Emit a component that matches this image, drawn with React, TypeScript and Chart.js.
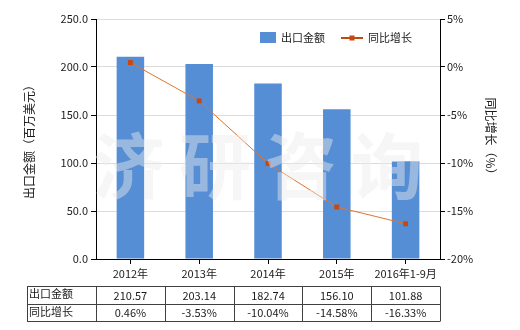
import React, { useEffect, useRef } from 'react';
import { Chart, registerables } from 'chart.js';
Chart.register(...registerables);

const categories = ['2012年', '2013年', '2014年', '2015年', '2016年1-9月'];
const exportValues = [210.57, 203.14, 182.74, 156.1, 101.88];
const growthValues = [0.46, -3.53, -10.04, -14.58, -16.33];
const exportLabels = ['210.57', '203.14', '182.74', '156.10', '101.88'];
const growthLabels = ['0.46%', '-3.53%', '-10.04%', '-14.58%', '-16.33%'];
const seriesNames = ['出口金额', '同比增长'];
const leftTitle = '出口金额（百万美元）';
const rightTitle = '同比增长（%）';
const watermarkChars = ['济', '研', '咨', '询'];

const FONT = '"Noto Sans CJK SC", "Noto Sans", sans-serif';
const BAR_COLOR = '#558ED5';
const LINE_COLOR = '#E0742A';
const MARKER_COLOR = '#C8470E';
const TEXT_COLOR = '#1a1a1a';

const overlayPlugin = {
  id: 'overlay',
  afterDatasetsDraw(chart: any) {
    const ctx = chart.ctx;
    const area = chart.chartArea;
    ctx.save();
    ctx.fillStyle = 'rgba(236,236,236,0.45)';
    ctx.font = `bold 72px ${FONT}`;
    ctx.textAlign = 'center';
    ctx.textBaseline = 'middle';
    watermarkChars.forEach((c, i) => {
      ctx.fillText(c, area.left + 33 + i * 86, 166);
    });
    ctx.restore();
  },
  afterDraw(chart: any) {
    const ctx = chart.ctx;
    const x = chart.scales.x;
    const area = chart.chartArea;
    ctx.save();
    // legend
    ctx.font = `11px ${FONT}`;
    ctx.textBaseline = 'middle';
    ctx.textAlign = 'left';
    ctx.fillStyle = BAR_COLOR;
    ctx.fillRect(260, 32, 16, 11);
    ctx.fillStyle = TEXT_COLOR;
    ctx.fillText(seriesNames[0], 281, 38);
    ctx.strokeStyle = '#C04A10';
    ctx.lineWidth = 2;
    ctx.beginPath();
    ctx.moveTo(341, 38);
    ctx.lineTo(363, 38);
    ctx.stroke();
    ctx.fillStyle = MARKER_COLOR;
    ctx.fillRect(349.5, 35.5, 5, 5);
    ctx.fillStyle = TEXT_COLOR;
    ctx.fillText(seriesNames[1], 368, 38);

    // axis titles
    ctx.font = `12px ${FONT}`;
    ctx.save();
    ctx.translate(29, (area.top + area.bottom) / 2);
    ctx.rotate(-Math.PI / 2);
    ctx.textAlign = 'center';
    ctx.fillText(leftTitle, 0, 0);
    ctx.restore();
    ctx.save();
    ctx.translate(491, (area.top + area.bottom) / 2);
    ctx.rotate(Math.PI / 2);
    ctx.textAlign = 'center';
    ctx.fillText(rightTitle, 0, 0);
    ctx.restore();

    // table
    const half = (x.getPixelForValue(1) - x.getPixelForValue(0)) / 2;
    const left = 27;
    const rows = [286, 303.5, 321];
    const cols = [left, area.left];
    categories.forEach((_, i) => cols.push(Math.round(x.getPixelForValue(i) + half)));
    ctx.strokeStyle = '#404040';
    ctx.lineWidth = 1;
    ctx.beginPath();
    rows.forEach((ry) => {
      const yy = Math.round(ry) + 0.5;
      ctx.moveTo(left, yy);
      ctx.lineTo(cols[cols.length - 1], yy);
    });
    cols.forEach((cx) => {
      const xx = Math.round(cx) + 0.5;
      ctx.moveTo(xx, Math.round(rows[0]) + 0.5);
      ctx.lineTo(xx, Math.round(rows[2]) + 0.5);
    });
    ctx.stroke();
    ctx.fillStyle = TEXT_COLOR;
    ctx.font = `11px ${FONT}`;
    ctx.textAlign = 'left';
    ctx.fillText(seriesNames[0], 29, 294);
    ctx.fillText(seriesNames[1], 29, 312);
    ctx.textAlign = 'center';
    categories.forEach((_, i) => {
      const cx = x.getPixelForValue(i);
      ctx.fillText(exportLabels[i], cx, 295.5);
      ctx.fillText(growthLabels[i], cx, 313);
    });
    ctx.restore();
  },
};

export default function App() {
  const ref = useRef<HTMLCanvasElement>(null);
  useEffect(() => {
    document.body.style.margin = '0';
    const chart = new Chart(ref.current as HTMLCanvasElement, {
      type: 'bar',
      data: {
        labels: categories,
        datasets: [
          {
            type: 'line',
            label: seriesNames[1],
            data: growthValues,
            yAxisID: 'y1',
            borderColor: LINE_COLOR,
            borderWidth: 1,
            backgroundColor: MARKER_COLOR,
            pointStyle: 'rect',
            pointRadius: 3.5,
            pointBorderWidth: 0,
            pointBackgroundColor: MARKER_COLOR,
            tension: 0,
            order: 0,
          } as any,
          {
            type: 'bar',
            label: seriesNames[0],
            data: exportValues,
            yAxisID: 'y',
            backgroundColor: BAR_COLOR,
            barPercentage: 0.4,
            categoryPercentage: 1,
            order: 1,
          },
        ],
      },
      options: {
        responsive: false,
        animation: false,
        layout: { padding: { top: 19, left: 0, right: 0, bottom: 0 } },
        plugins: { legend: { display: false }, tooltip: { enabled: false } },
        scales: {
          x: {
            offset: true,
            grid: { display: true, drawOnChartArea: false, offset: false, tickLength: 5, color: '#000' },
            border: { color: '#000', width: 1 },
            ticks: { color: TEXT_COLOR, font: { family: FONT, size: 11 }, padding: 3, maxRotation: 0, autoSkip: false },
            afterFit: (s: any) => { s.height = 71; },
          },
          y: {
            position: 'left',
            min: 0,
            max: 250,
            ticks: {
              stepSize: 50,
              color: TEXT_COLOR,
              font: { family: FONT, size: 11 },
              padding: 3,
              callback: (v: any) => Number(v).toFixed(1),
            },
            grid: { color: '#dcdcdc', tickLength: 5, tickColor: '#000' },
            border: { color: '#000', width: 1 },
            afterFit: (s: any) => { s.width = 96; },
          },
          y1: {
            position: 'right',
            min: -20,
            max: 5,
            ticks: {
              stepSize: 5,
              color: TEXT_COLOR,
              font: { family: FONT, size: 11 },
              padding: 2,
              callback: (v: any) => `${v}%`,
            },
            grid: { drawOnChartArea: false, tickLength: 5, color: '#000' },
            border: { color: '#000', width: 1 },
            afterFit: (s: any) => { s.width = 80; },
          },
        },
      },
      plugins: [overlayPlugin],
    });
    return () => chart.destroy();
  }, []);
  return <canvas ref={ref} width={520} height={330} style={{ display: 'block' }} />;
}
